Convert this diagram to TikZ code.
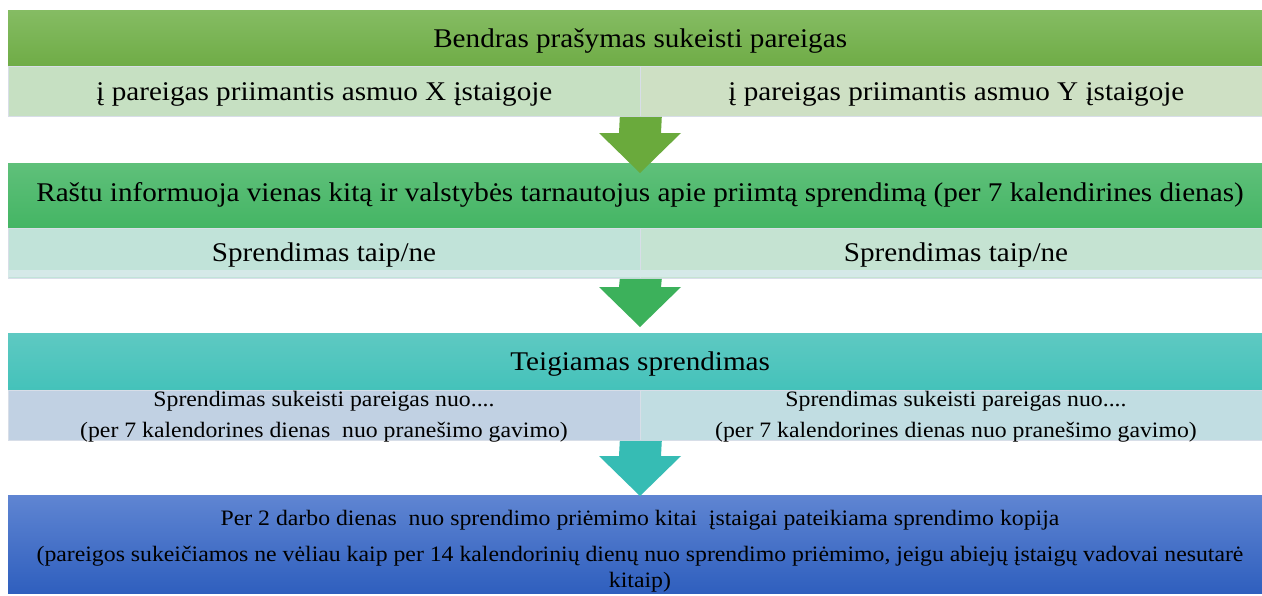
\documentclass[tikz,border=0pt]{standalone}
\usepackage{fontspec}
\setmainfont{Liberation Serif}[FakeStretch=1.08]
\usetikzlibrary{calc}

\definecolor{bandAtop}{HTML}{85BC63}
\definecolor{bandAbot}{HTML}{6FAC46}
\definecolor{bandBtop}{HTML}{5FC07A}
\definecolor{bandBbot}{HTML}{44B564}
\definecolor{bandCtop}{HTML}{5EC9C2}
\definecolor{bandCbot}{HTML}{44C2BA}
\definecolor{bandDtop}{HTML}{5F85D2}
\definecolor{bandDbot}{HTML}{2F5FBE}
\definecolor{cellAleft}{HTML}{C6E0C2}
\definecolor{cellAright}{HTML}{CEE0C4}
\definecolor{cellBleft}{HTML}{C1E3D9}
\definecolor{cellBright}{HTML}{C5E3D2}
\definecolor{cellBstripe}{HTML}{D5E9E8}
\definecolor{cellCleft}{HTML}{C1D1E3}
\definecolor{cellCright}{HTML}{C1DDE2}
\definecolor{cellline}{HTML}{D8DEE8}
\definecolor{arrowA}{HTML}{6AAA3C}
\definecolor{arrowB}{HTML}{3CB15B}
\definecolor{arrowC}{HTML}{36BCB4}

% block arrow: start of shaft, tip, colour
\newcommand\flowarrow[3]{%
  \fill[#3] ($(#1)+(-21,0)$) -- ($(#2)+(-21,-40)$) -- ($(#2)+(-41,-40)$) -- (#2)
    -- ($(#2)+(41,-40)$) -- ($(#2)+(21,-40)$) -- ($(#1)+(21,0)$) -- cycle;}

\begin{document}
\begin{tikzpicture}[x=1pt, y=-1pt,
  big/.style={font=\fontsize{27}{32}\selectfont, text height=18pt, text depth=0pt},
  band/.style={big, minimum width=1264pt, inner sep=0pt, anchor=north west},
  cell/.style={big, inner sep=0pt, anchor=north west, draw=cellline, line width=0.8pt,
    minimum width=632pt, minimum height=50pt},
  small/.style={font=\fontsize{22}{31}\selectfont, align=center}]
\useasboundingbox [fill=white] (0,0) rectangle (1262,595);

% step 1
\node [band, minimum height=56pt, top color=bandAtop, bottom color=bandAbot] (request) at (8,10) {Bendras prašymas sukeisti pareigas};
\node [cell, fill=cellAleft] (takerX) at (8,66) {į pareigas priimantis asmuo X įstaigoje};
\node [cell, fill=cellAright] (takerY) at (640,66) {į pareigas priimantis asmuo Y įstaigoje};

% step 2
\node [band, minimum height=65pt, top color=bandBtop, bottom color=bandBbot] (inform) at (8,163) {};
\node [big] (informtext) at (640,192) {Raštu informuoja vienas kitą ir valstybės tarnautojus apie priimtą sprendimą (per 7 kalendirines dienas)};
\node [cell, fill=cellBleft] (answerX) at (8,228) {};
\node [cell, fill=cellBright] (answerY) at (640,228) {};
\fill [cellBstripe] (8,270) rectangle (1262,277);
\node [big] (answerXtext) at (324,252) {Sprendimas taip/ne};
\node [big] (answerYtext) at (956,252) {Sprendimas taip/ne};

% step 3
\node [band, minimum height=57pt, top color=bandCtop, bottom color=bandCbot] (positive) at (8,333) {Teigiamas sprendimas};
\node [cell, fill=cellCleft] (swapX) at (8,390) {};
\node [cell, fill=cellCright] (swapY) at (640,390) {};
\node [small] (swapXtext) at (324,417) {Sprendimas sukeisti pareigas nuo....\\(per 7 kalendorines dienas\ \ nuo pranešimo gavimo)};
\node [small] (swapYtext) at (956,417) {Sprendimas sukeisti pareigas nuo....\\(per 7 kalendorines dienas nuo pranešimo gavimo)};

% step 4
\node [band, minimum height=98pt, top color=bandDtop, bottom color=bandDbot] (copy) at (8,495) {};
\node [small, font=\fontsize{22}{26}\selectfont] (copytext) at (640,551) {Per 2 darbo dienas\ \ nuo sprendimo priėmimo kitai\ \ įstaigai pateikiama sprendimo kopija\\[10pt](pareigos sukeičiamos ne vėliau kaip per 14 kalendorinių dienų nuo sprendimo priėmimo, jeigu abiejų įstaigų vadovai nesutarė\\kitaip)};

% arrows
\coordinate (tipA) at (640,173);
\coordinate (tipB) at (640,327);
\coordinate (tipC) at (640,496);
\flowarrow{takerX.south east}{tipA}{arrowA}
\flowarrow{answerX.south east}{tipB}{arrowB}
\flowarrow{swapX.south east}{tipC}{arrowC}
\end{tikzpicture}
\end{document}
